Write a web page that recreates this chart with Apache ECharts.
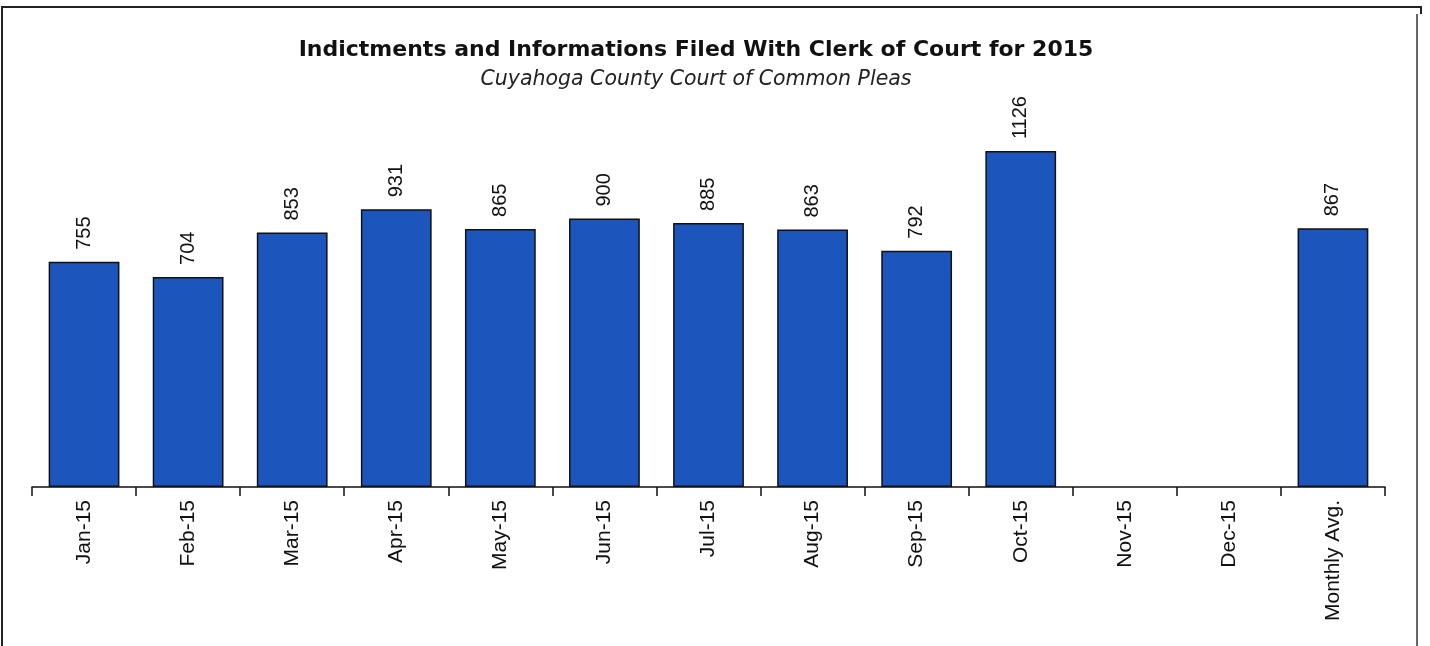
<!DOCTYPE html>
<html><head><meta charset="utf-8">
<script src="https://cdn.jsdelivr.net/npm/echarts@6/dist/echarts.min.js"></script>
<style>html,body{margin:0;padding:0;background:#fff}#c{width:1430px;height:646px}</style>
</head><body><div id="c"></div>
<script>
const categories = ['Jan-15','Feb-15','Mar-15','Apr-15','May-15','Jun-15','Jul-15','Aug-15','Sep-15','Oct-15','Nov-15','Dec-15','Monthly Avg.'];
const values = [755, 704, 853, 931, 865, 900, 885, 863, 792, 1126, null, null, 867];
const titleText = 'Indictments and Informations Filed With Clerk of Court for 2015';
const subtitleText = 'Cuyahoga County Court of Common Pleas';

const chart = echarts.init(document.getElementById('c'));
chart.setOption({
  animation: false,
  title: {
    text: titleText, subtext: subtitleText, left: 691, textAlign: 'center', top: 34, itemGap: 9,
    textStyle: {fontFamily: 'DejaVu Sans', fontWeight: 'bold', fontSize: 22, color: '#111'},
    subtextStyle: {fontFamily: 'DejaVu Sans', fontStyle: 'italic', fontSize: 20.5, color: '#222'}
  },
  graphic: [
    {type: 'polyline', shape: {points: [[2, 646], [2, 7], [1421, 7], [1421, 14]]}, style: {stroke: '#222', lineWidth: 2, fill: null}},
    {type: 'line', shape: {x1: 1417, y1: 14, x2: 1417, y2: 646}, style: {stroke: '#333', lineWidth: 1.5}}
  ],
  grid: {left: 32, right: 45, top: 129, bottom: 159, containLabel: false},
  xAxis: {
    type: 'category', data: categories, boundaryGap: true,
    axisLine: {lineStyle: {color: '#111', width: 1.5}},
    axisTick: {show: true, inside: false, length: 9, lineStyle: {color: '#111', width: 1.5}},
    axisLabel: {rotate: 90, fontFamily: 'Liberation Sans', fontSize: 21, color: '#111', margin: 13, interval: 0}
  },
  yAxis: {type: 'value', min: 0, max: 1200, show: false, splitLine: {show: false}},
  series: [{
    type: 'bar', data: values, barWidth: '68%',
    itemStyle: {color: '#1c56bd', borderColor: '#111', borderWidth: 1.5},
    label: {show: true, position: 'top', rotate: 90, align: 'left', verticalAlign: 'middle', distance: 12,
      fontFamily: 'Liberation Sans', fontSize: 20, color: '#111'}
  }]
});
</script></body></html>
